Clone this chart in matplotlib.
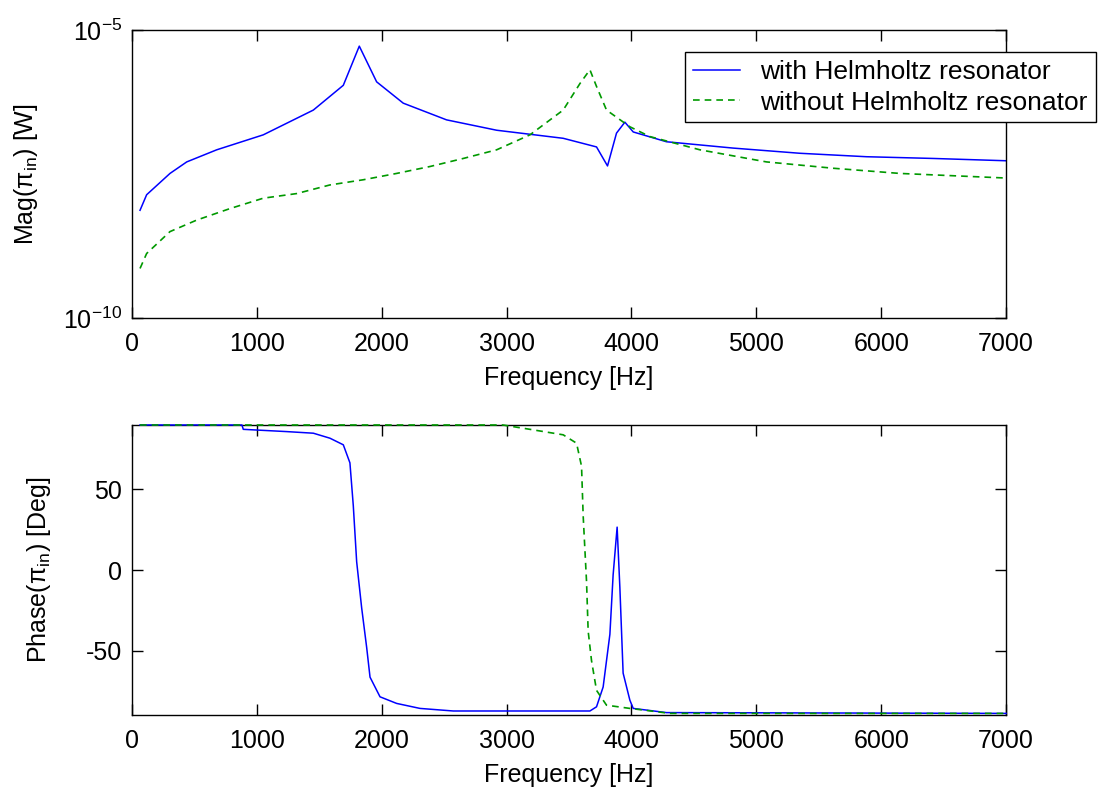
import numpy as np
import matplotlib
matplotlib.use("Agg")
import matplotlib.pyplot as plt

plt.rcParams['font.family'] = ['Liberation Sans', 'DejaVu Sans']
plt.rcParams['mathtext.fontset'] = 'custom'
plt.rcParams['mathtext.rm'] = 'Liberation Sans'
plt.rcParams['mathtext.it'] = 'Liberation Sans'
plt.rcParams['mathtext.default'] = 'regular'
plt.rcParams['axes.unicode_minus'] = False

# ---- magnitude (log10 of W) ----
f_mag_with = [64, 117, 304, 438, 678, 1051, 1452, 1692, 1820, 1959, 2172, 2519, 2920,
              3453, 3720, 3808, 3880, 3947, 4014, 4280, 4814, 5348, 5882, 6416, 7000]
logmag_with = [-8.13, -7.86, -7.49, -7.29, -7.08, -6.82, -6.39, -5.96, -5.28, -5.90, -6.27,
               -6.56, -6.74, -6.88, -7.03, -7.36, -6.79, -6.60, -6.77, -6.94, -7.05, -7.14,
               -7.20, -7.23, -7.27]

f_mag_without = [64, 117, 304, 518, 785, 1051, 1318, 1585, 1852, 2119, 2386, 2653, 2920,
                 3187, 3453, 3587, 3667, 3720, 3800, 3987, 4147, 4548, 5081, 5615, 6149, 7000]
logmag_without = [-9.14, -8.88, -8.50, -8.30, -8.10, -7.92, -7.84, -7.69, -7.60, -7.49,
                  -7.37, -7.23, -7.08, -6.82, -6.39, -5.93, -5.69, -5.98, -6.39, -6.68,
                  -6.85, -7.08, -7.29, -7.40, -7.49, -7.57]

# ---- phase (deg) ----
f_ph_with = [64, 880, 891, 1238, 1452, 1585, 1692, 1745, 1772, 1799, 1839, 1879, 1906, 1986,
             2119, 2306, 2573, 3667, 3720, 3773, 3827, 3853, 3885, 3907, 3933, 3987, 4014,
             4280, 7000]
phase_with = [90, 90, 87.3, 85.9, 84.9, 81.8, 77.7, 66.5, 39.9, 5.1, -23.5, -48, -66.5, -78.7,
              -82.8, -85.9, -87.5, -87.5, -84.9, -72.6, -39.9, -3, 26.6, -11, -64, -80.8,
              -85.9, -88.5, -89]

f_ph_without = [64, 2970, 3187, 3453, 3560, 3600, 3613, 3640, 3653, 3680, 3720, 3800,
                3987, 4094, 4308, 7000]
phase_without = [90, 90, 87.3, 83.9, 78.7, 64.4, 33.7, -7.2, -37.9, -56.3, -74.7, -83.9,
                 -85.9, -86.9, -89, -89]

labels = ['with Helmholtz resonator', 'without Helmholtz resonator']
xticks = [0, 1000, 2000, 3000, 4000, 5000, 6000, 7000]

blue = (0, 0, 1)
green = (0, 0.6, 0)
fs = 18

fig = plt.figure(figsize=(11.04, 7.92), dpi=100)
ax1 = fig.add_axes([0.1196, 0.5985, 0.7917, 0.3636])
ax2 = fig.add_axes([0.1196, 0.0972, 0.7917, 0.3662])

l1, = ax1.plot(f_mag_with, 10 ** np.array(logmag_with), color=blue, lw=1.1)
l2, = ax1.plot(f_mag_without, 10 ** np.array(logmag_without), color=green, lw=1.2,
               linestyle=(0, (4, 3)))
ax1.set_yscale('log')
ax1.set_ylim(1e-10, 1e-5)
ax1.set_yticks([1e-10, 1e-5])
ax1.set_yticklabels([r'$10^{-10}$', r'$10^{-5}$'])
ax1.minorticks_off()
ax1.set_ylabel(r'Mag($\pi_{in}$) [W]', fontsize=fs)
ax1.yaxis.set_label_coords(-0.105, 0.5)

ax2.plot(f_ph_with, phase_with, color=blue, lw=1.1, clip_on=False, zorder=3)
ax2.plot(f_ph_without, phase_without, color=green, lw=1.2, linestyle=(0, (4, 3)),
         clip_on=False, zorder=4)
ax2.set_ylim(-90, 90)
ax2.set_yticks([-50, 0, 50])
ax2.set_ylabel(r'Phase($\pi_{in}$) [Deg]', fontsize=fs)
ax2.yaxis.set_label_coords(-0.09, 0.5)

for ax in (ax1, ax2):
    ax.set_xlim(0, 7000)
    ax.set_xticks(xticks)
    ax.set_xlabel('Frequency [Hz]', fontsize=fs, labelpad=7)
    ax.tick_params(direction='in', top=True, right=True, length=8, width=1,
                   labelsize=fs)
    ax.tick_params(axis='x', pad=10)
    ax.tick_params(axis='y', pad=7)
    for s in ax.spines.values():
        s.set_linewidth(1.0)

leg = fig.legend([l1, l2], labels, loc='upper left', bbox_to_anchor=(0.6205, 0.9343),
                 bbox_transform=fig.transFigure, borderaxespad=0, fancybox=False,
                 edgecolor='black', fontsize=19, handlelength=1.8, borderpad=0.3,
                 labelspacing=0.25, handletextpad=0.75, framealpha=1)
leg.get_frame().set_linewidth(1.0)

fig.savefig('out.png', dpi=100)
